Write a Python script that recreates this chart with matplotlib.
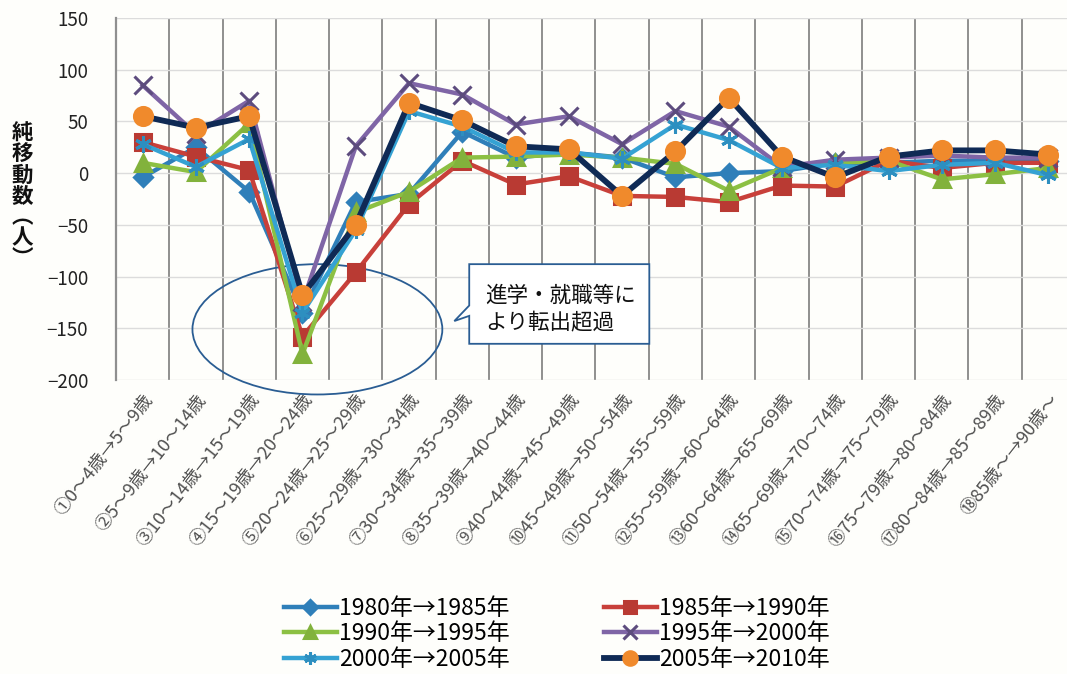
import numpy as np
import matplotlib
matplotlib.use("Agg")
import matplotlib.pyplot as plt
from matplotlib.patches import Ellipse, Polygon

plt.rcParams['font.family'] = ['Noto Sans CJK JP', 'DejaVu Sans']

categories = [
    "①0～4歳→5～9歳", "②5～9歳→10～14歳", "③10～14歳→15～19歳",
    "④15～19歳→20～24歳", "⑤20～24歳→25～29歳", "⑥25～29歳→30～34歳",
    "⑦30～34歳→35～39歳", "⑧35～39歳→40～44歳", "⑨40～44歳→45～49歳",
    "⑩45～49歳→50～54歳", "⑪50～54歳→55～59歳", "⑫55～59歳→60～64歳",
    "⑬60～64歳→65～69歳", "⑭65～69歳→70～74歳", "⑮70～74歳→75～79歳",
    "⑯75～79歳→80～84歳", "⑰80～84歳→85～89歳", "⑱85歳～→90歳～",
]

s1980 = [-4, 25, -18, -135, -28, -20, 40, 15, 20, 15, -4, 0, 2, 10, 10, 12, 12, 12]
s1985 = [30, 16, 3, -158, -96, -30, 12, -11, -3, -22, -23, -28, -12, -13, 12, 5, 10, 10]
s1990 = [10, 1, 48, -175, -38, -18, 15, 16, 18, 15, 9, -17, 5, 10, 12, -6, -1, 5]
s1995 = [85, 38, 70, -125, 26, 87, 76, 47, 55, 28, 60, 45, 6, 13, 15, 17, 15, 15]
s2000 = [28, 6, 33, -135, -55, 60, 45, 20, 20, 14, 47, 32, 5, 8, 2, 8, 10, -2]
s2005 = [55, 44, 55, -118, -50, 68, 51, 26, 23, -22, 21, 73, 16, -4, 16, 22, 22, 18]

series_labels = ["1980年→1985年", "1985年→1990年", "1990年→1995年",
                 "1995年→2000年", "2000年→2005年", "2005年→2010年"]

W, H = 1067, 674
fig = plt.figure(figsize=(W / 100, H / 100), dpi=100)
fig.patch.set_facecolor("#fefefb")

# axes box in pixel units
left_px, right_px, top_px, bottom_px = 116, 1075, 18, 380
ax = fig.add_axes([left_px / W, 1 - bottom_px / H,
                   (right_px - left_px) / W, (bottom_px - top_px) / H])
ax.set_facecolor("#fefefb")

x = np.arange(len(categories))

styles = [
    dict(data=s1980, color="#2f7fb9", lw=3.2, marker="D", ms=9, mfc="#2f7fb9", mec="#2f7fb9"),
    dict(data=s1985, color="#c8403a", lw=3.2, marker="s", ms=11, mfc="#b93a33", mec="#b93a33"),
    dict(data=s1990, color="#8cc043", lw=3.2, marker="^", ms=12, mfc="#82b23c", mec="#82b23c"),
    dict(data=s1995, color="#7f65a6", lw=3.2, marker="x", ms=13, mfc="#5d4c7e", mec="#5d4c7e"),
    dict(data=s2000, color="#35a2d3", lw=3.2, marker=(6, 2, 0), ms=12, mfc="#2d8fc0", mec="#2d8fc0"),
    dict(data=s2005, color="#0f2a55", lw=4.2, marker="o", ms=13, mfc="#f08a2c", mec="#f08a2c"),
]

handles = []
for st, lab in zip(styles, series_labels):
    (h,) = ax.plot(x, st["data"], color=st["color"], lw=st["lw"], marker=st["marker"],
                   ms=st["ms"], mfc=st["mfc"], mec=st["mec"], mew=2.2,
                   label=lab, zorder=3, solid_joinstyle="round")
    handles.append(h)

ax.set_xlim(-0.5, len(categories) - 0.5)
ax.set_ylim(-200, 150)
ax.set_yticks(np.arange(-200, 151, 50))
ax.set_xticks(x)
ax.set_xticks(np.arange(-0.5, len(categories), 1.0), minor=True)
ax.set_xticklabels(categories, rotation=52, ha="right", rotation_mode="anchor",
                   fontsize=13, color="#505050")
ax.tick_params(axis="x", which="both", length=0, pad=8)
ax.tick_params(axis="y", length=0, pad=20, labelsize=13.5, labelcolor="#222222")

ax.grid(axis="x", which="minor", color="#8f8f8f", lw=1.4)
ax.grid(axis="y", which="major", color="#dcdcdc", lw=1.0)
ax.set_axisbelow(True)
for side in ("top", "right", "bottom"):
    ax.spines[side].set_visible(False)
ax.spines["left"].set_color("#8f8f8f")
ax.spines["left"].set_linewidth(1.6)

# y-axis title, stacked vertically
fig.text(22 / W, 1 - 196 / H, "\n".join("純移動数︵人︶"), ha="center", va="center",
         fontsize=15.5, fontweight="bold", linespacing=1.0, color="#111111")

# highlight around the 15-19 → 20-24 dip
ax.add_patch(Ellipse((3.28, -151), 4.69, 126, fill=False, ec="#2a5d93", lw=1.3,
                     zorder=2, clip_on=False))

# callout box with pointer to the left
bx0, bx1, by0, by1 = 6.13, 9.51, -165, -88
callout = Polygon([(bx0, by1), (bx1, by1), (bx1, by0), (bx0, by0),
                   (bx0, -138), (5.85, -143), (bx0, -128)],
                  closed=True, fc="#ffffff", ec="#2a5d93", lw=1.3, zorder=4)
ax.add_patch(callout)
ax.text(bx0 + 0.3, (by0 + by1) / 2 - 5, "進学・就職等に\nより転出超過", ha="left", va="center",
        fontsize=15.5, linespacing=1.3, color="#111111", zorder=5)

order = [0, 2, 4, 1, 3, 5]
fig.legend([handles[i] for i in order], [series_labels[i] for i in order],
           loc="center", bbox_to_anchor=(557 / W, 1 - 634 / H), ncol=2,
           frameon=False, fontsize=16.5, handlelength=2.3, handletextpad=0.12,
           columnspacing=4.1, labelspacing=0.1, markerscale=0.75)

fig.savefig("out.png", dpi=100, facecolor=fig.get_facecolor())
